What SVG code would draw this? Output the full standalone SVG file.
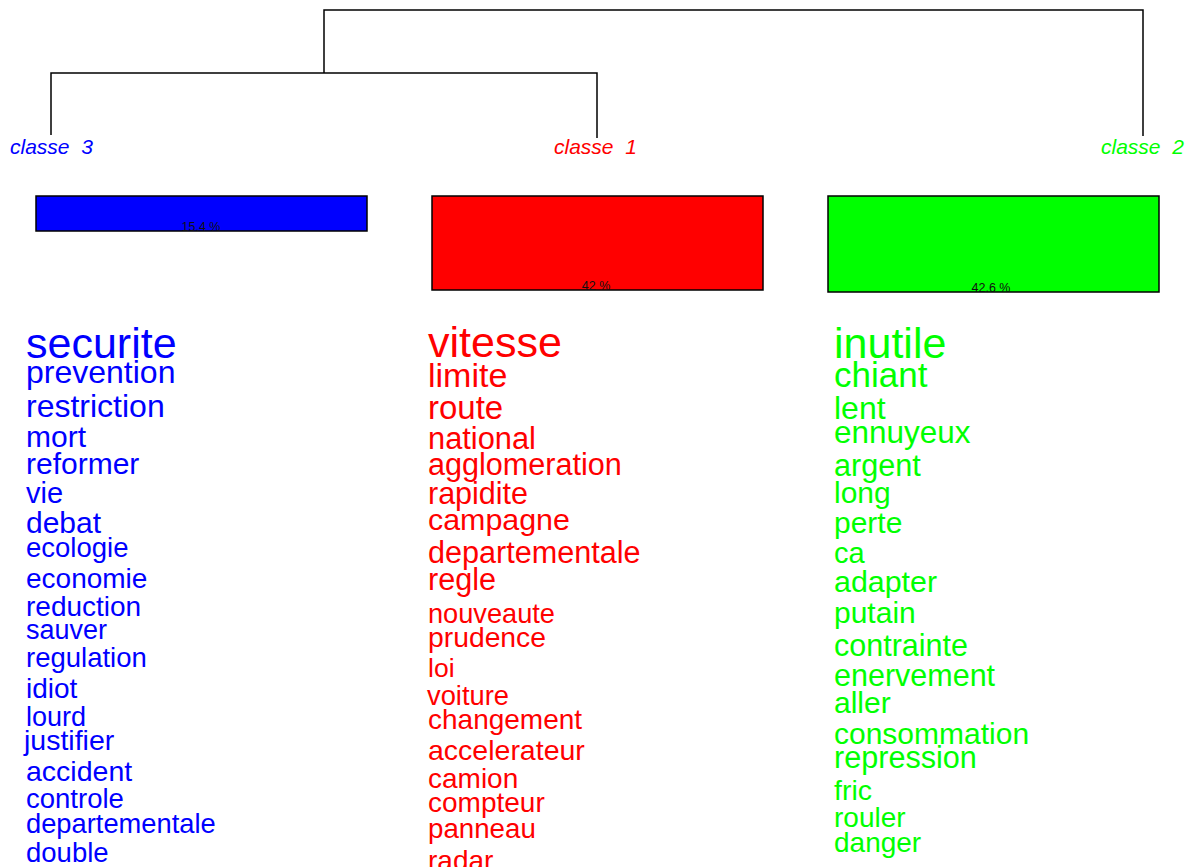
<svg xmlns="http://www.w3.org/2000/svg" width="1195" height="867" viewBox="0 0 1195 867">
<style>
text{font-family:"Liberation Sans",Arial,sans-serif}
.lbl{font-size:21px;font-style:italic}
.pct{font-size:12.5px;fill:#111;text-anchor:middle}
.bar{stroke:#000;stroke-width:1.5}
.b{fill:#0000ff}.r{fill:#ff0000}.g{fill:#00ff00}
.tree{stroke:#000;stroke-width:1.5;fill:none}
</style>
<rect width="1195" height="867" fill="#fff"/>
<g id="connectors">
<path class="tree" d="M324,73 V10 H1143 V136"/>
<path class="tree" d="M51,135 V73 H597 V138"/>
</g>
<g id="classe3">
<text class="lbl b" x="10" y="154">classe&#160; 3</text>
<rect class="bar" x="36" y="196" width="331" height="35" fill="#0000ff"/>
<text class="pct" x="201" y="231">15.4 %</text>
<g class="b">
<text x="26" y="358" font-size="43">securite</text>
<text x="26" y="383" font-size="32">prevention</text>
<text x="26" y="417" font-size="32">restriction</text>
<text x="26" y="447" font-size="30">mort</text>
<text x="26" y="474" font-size="30">reformer</text>
<text x="26" y="503" font-size="29">vie</text>
<text x="26" y="533" font-size="30">debat</text>
<text x="26" y="557" font-size="27.5">ecologie</text>
<text x="26" y="588" font-size="28">economie</text>
<text x="26" y="616" font-size="28">reduction</text>
<text x="26" y="639" font-size="27">sauver</text>
<text x="26" y="667" font-size="27.5">regulation</text>
<text x="26" y="698" font-size="28">idiot</text>
<text x="26" y="726" font-size="27">lourd</text>
<text x="24" y="750" font-size="28.5">justifier</text>
<text x="26" y="781" font-size="28.5">accident</text>
<text x="26" y="808" font-size="27.5">controle</text>
<text x="26" y="833" font-size="27.3">departementale</text>
<text x="26" y="862" font-size="27.5">double</text>
</g>
</g>
<g id="classe1">
<text class="lbl r" x="554" y="154">classe&#160; 1</text>
<rect class="bar" x="432" y="196" width="331" height="94" fill="#ff0000"/>
<text class="pct" x="596" y="290">42 %</text>
<g class="r">
<text x="428" y="357" font-size="43">vitesse</text>
<text x="428" y="387" font-size="34">limite</text>
<text x="428" y="419" font-size="33">route</text>
<text x="428" y="449" font-size="30.8">national</text>
<text x="428" y="475" font-size="30.6">agglomeration</text>
<text x="428" y="504" font-size="30.5">rapidite</text>
<text x="428" y="530" font-size="30.4">campagne</text>
<text x="428" y="563" font-size="30.6">departementale</text>
<text x="428" y="590" font-size="30.6">regle</text>
<text x="428" y="623" font-size="27.2">nouveaute</text>
<text x="428" y="647" font-size="28.3">prudence</text>
<text x="428" y="677" font-size="26.5">loi</text>
<text x="427" y="705" font-size="27.3">voiture</text>
<text x="428" y="729" font-size="28">changement</text>
<text x="428" y="760" font-size="28.5">accelerateur</text>
<text x="428" y="788" font-size="28">camion</text>
<text x="428" y="812" font-size="28">compteur</text>
<text x="428" y="838" font-size="27.7">panneau</text>
<text x="428" y="870" font-size="28">radar</text>
</g>
</g>
<g id="classe2">
<text class="lbl g" x="1101" y="154">classe&#160; 2</text>
<rect class="bar" x="828" y="196" width="331" height="96" fill="#00ff00"/>
<text class="pct" x="991" y="292">42.6 %</text>
<g class="g">
<text x="834" y="358" font-size="43">inutile</text>
<text x="834" y="387" font-size="35">chiant</text>
<text x="834" y="419" font-size="32">lent</text>
<text x="834" y="443" font-size="31.5">ennuyeux</text>
<text x="834" y="476" font-size="30.6">argent</text>
<text x="834" y="503" font-size="30">long</text>
<text x="834" y="533" font-size="30">perte</text>
<text x="834" y="563" font-size="29">ca</text>
<text x="834" y="592" font-size="30.4">adapter</text>
<text x="834" y="623" font-size="30">putain</text>
<text x="834" y="656" font-size="30.5">contrainte</text>
<text x="834" y="686" font-size="30.5">enervement</text>
<text x="834" y="713" font-size="30">aller</text>
<text x="834" y="744" font-size="30">consommation</text>
<text x="834" y="768" font-size="30.6">repression</text>
<text x="834" y="800" font-size="28.5">fric</text>
<text x="834" y="827" font-size="28">rouler</text>
<text x="834" y="852" font-size="28">danger</text>
</g>
</g>
</svg>
